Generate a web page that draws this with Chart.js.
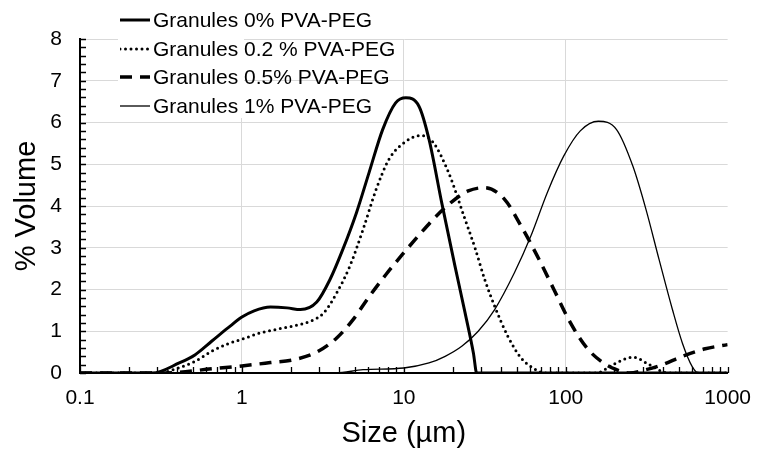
<!DOCTYPE html>
<html>
<head>
<meta charset="utf-8">
<script src="https://cdn.jsdelivr.net/npm/chart.js@4.4.0/dist/chart.umd.min.js"></script>
<style>
  body { margin: 0; background: #fff; }
  #wrap { position: relative; width: 764px; height: 455px; }
  #legend { position: absolute; left: 118px; top: 6px; width: 126px; height: 112px; background: #fff; }
  .row { position: absolute; left: 0; height: 24px; width: 300px; white-space: nowrap; }
  .row svg { position: absolute; left: 2px; top: 7px; }
  .row span { position: absolute; left: 35px; top: 0; font: 21px "Liberation Sans", Arial, sans-serif; line-height: 24px; color: #000; }
</style>
</head>
<body>
<div id="wrap">
  <canvas id="chart" width="764" height="455"></canvas>
  <div id="legend"></div>
</div>
<script>
// Particle size distribution data (size in µm, % volume)
const seriesNames = ['Granules 0% PVA-PEG', 'Granules 0.2 % PVA-PEG', 'Granules 0.5% PVA-PEG', 'Granules 1% PVA-PEG'];

const size0 = [0.1, 0.28, 0.41, 0.515, 0.65, 0.82, 1.0, 1.19, 1.5, 1.9, 2.3, 2.9, 3.5, 4.2, 5.1, 6.1, 7.4, 8.9, 10.3, 12.4, 14.3, 17.2, 20.7, 23.9, 26.9, 28.2, 1000];
const vol0  = [0, 0, 0.24, 0.44, 0.76, 1.08, 1.34, 1.49, 1.58, 1.56, 1.52, 1.7, 2.24, 2.96, 3.84, 4.8, 5.83, 6.47, 6.59, 6.39, 5.6, 4.05, 2.56, 1.44, 0.48, 0, 0];

const size02 = [0.1, 0.31, 0.41, 0.515, 0.65, 0.82, 1.0, 1.3, 1.66, 2.1, 2.65, 3.2, 3.85, 4.64, 5.6, 6.75, 8.1, 10.3, 12.7, 15, 18.9, 23.9, 27.5, 31.6, 36.4, 43.9, 53, 64, 74, 155, 196, 260, 328, 396, 430, 1000];
const vol02  = [0, 0, 0.13, 0.28, 0.52, 0.7, 0.81, 0.96, 1.05, 1.13, 1.24, 1.44, 1.92, 2.56, 3.44, 4.4, 5.12, 5.55, 5.69, 5.55, 4.8, 3.68, 3.0, 2.24, 1.6, 0.88, 0.36, 0.1, 0, 0, 0.2, 0.38, 0.2, 0.03, 0, 0];

const size05 = [0.1, 0.34, 0.65, 1.0, 1.5, 2.1, 2.9, 3.85, 4.86, 6.14, 7.76, 9.8, 12.4, 15.7, 19.8, 25, 31.6, 41.9, 53, 66.8, 84.5, 107, 135, 171, 206, 247, 313, 396, 525, 728, 1000];
const vol05  = [0, 0, 0.1, 0.17, 0.25, 0.32, 0.5, 0.84, 1.28, 1.84, 2.36, 2.84, 3.3, 3.74, 4.1, 4.36, 4.44, 4.16, 3.52, 2.8, 2.0, 1.2, 0.6, 0.24, 0.08, 0, 0.08, 0.2, 0.4, 0.58, 0.68];

const size1 = [0.1, 3.8, 5.6, 10, 14.3, 18, 22.8, 28.8, 36.4, 48.2, 60.9, 76.9, 97.3, 123, 159, 206, 260, 313, 377, 456, 525, 603, 660, 1000];
const vol1  = [0, 0, 0.08, 0.12, 0.24, 0.4, 0.64, 1.0, 1.52, 2.4, 3.28, 4.32, 5.2, 5.8, 6.03, 5.83, 4.95, 3.92, 2.72, 1.52, 0.72, 0.16, 0, 0];

const xTicks = [0.1, 1, 10, 100, 1000];
const xTickLabels = ['0.1', '1', '10', '100', '1000'];
const yTicks = [0, 1, 2, 3, 4, 5, 6, 7, 8];

const FONT = '"Liberation Sans", Arial, sans-serif';
Chart.defaults.font.family = FONT;
Chart.defaults.color = '#000';

function pts(xs, ys) {
    return xs.map((x, i) => ({ x: x, y: ys[i] }));
}

const lineStyles = [
    { borderWidth: 3, borderDash: [], borderCapStyle: 'butt' },
    { borderWidth: 3, borderDash: [0, 5.5], borderCapStyle: 'round' },
    { borderWidth: 3.5, borderDash: [12, 8], borderCapStyle: 'butt' },
    { borderWidth: 1.3, borderDash: [], borderCapStyle: 'butt' }
];
const allData = [pts(size0, vol0), pts(size02, vol02), pts(size05, vol05), pts(size1, vol1)];

const datasets = allData.map((d, i) => Object.assign({
    label: seriesNames[i],
    data: d,
    borderColor: '#000',
    backgroundColor: '#000',
    fill: false,
    pointRadius: 0,
    cubicInterpolationMode: 'monotone'
}, lineStyles[i]));

// Inside tick marks (Excel style) on both axes
const minorTicks = {
    id: 'minorTicks',
    afterDraw(chart) {
        const ctx = chart.ctx;
        const xs = chart.scales.x, ys = chart.scales.y;
        const area = chart.chartArea;
        ctx.save();
        ctx.strokeStyle = '#000';
        ctx.lineWidth = 1.3;
        ctx.beginPath();
        for (let d = 0.1; d < 1000; d *= 10) {
            for (let m = 1; m <= 10; m++) {
                const px = Math.round(xs.getPixelForValue(d * m)) + 0.5;
                ctx.moveTo(px, area.bottom);
                ctx.lineTo(px, area.bottom - 6);
            }
        }
        for (let k = 0; k <= 40; k++) {
            const py = Math.round(ys.getPixelForValue(k * 0.2)) + 0.5;
            ctx.moveTo(area.left, py);
            ctx.lineTo(area.left + 6, py);
        }
        ctx.stroke();
        ctx.restore();
    }
};

new Chart(document.getElementById('chart'), {
    type: 'line',
    data: { datasets: datasets },
    options: {
        responsive: false,
        animation: false,
        layout: { padding: { top: 39, right: 28, left: 0, bottom: 0 } },
        plugins: { legend: { display: false }, tooltip: { enabled: false } },
        scales: {
            x: {
                type: 'logarithmic',
                min: 0.1,
                max: 1000,
                afterBuildTicks: s => { s.ticks = xTicks.map(v => ({ value: v })); },
                afterFit: s => { s.height = 82; },
                ticks: {
                    autoSkip: false,
                    maxRotation: 0,
                    padding: 13,
                    font: { size: 21 },
                    callback: (v, i) => xTickLabels[i]
                },
                grid: {
                    drawTicks: false,
                    color: c => (c.tick && c.tick.value === 1000) ? 'rgba(0,0,0,0)' : '#d9d9d9'
                },
                border: { color: '#000', width: 2 },
                title: { display: true, text: 'Size (µm)', font: { size: 29 }, padding: { top: 0, bottom: 4 } }
            },
            y: {
                min: 0,
                max: 8,
                afterBuildTicks: s => { s.ticks = yTicks.map(v => ({ value: v })); },
                afterFit: s => { s.width = 80; },
                ticks: { padding: 18, font: { size: 21 } },
                grid: { drawTicks: false, color: '#d9d9d9' },
                border: { color: '#000', width: 2 },
                title: { display: true, text: '% Volume', font: { size: 29 }, padding: { top: 10, bottom: 0 } }
            }
        }
    },
    plugins: [minorTicks]
});

// Legend, overlapping the top of the plot as in the original
const legendRows = [20, 49, 77, 106];
const legend = document.getElementById('legend');
seriesNames.forEach((name, i) => {
    const st = lineStyles[i];
    const row = document.createElement('div');
    row.className = 'row';
    row.style.top = (legendRows[i] - 6 - 12) + 'px';
    let dash = '';
    if (i === 1) dash = ' stroke-dasharray="0 5.5" stroke-linecap="round"';
    if (i === 2) dash = ' stroke-dasharray="12 8"';
    row.innerHTML = '<svg width="32" height="10"><line x1="0" y1="5" x2="30" y2="5" stroke="#000" stroke-width="' +
        st.borderWidth + '"' + dash + '/></svg><span>' + name + '</span>';
    legend.appendChild(row);
});
</script>
</body>
</html>
